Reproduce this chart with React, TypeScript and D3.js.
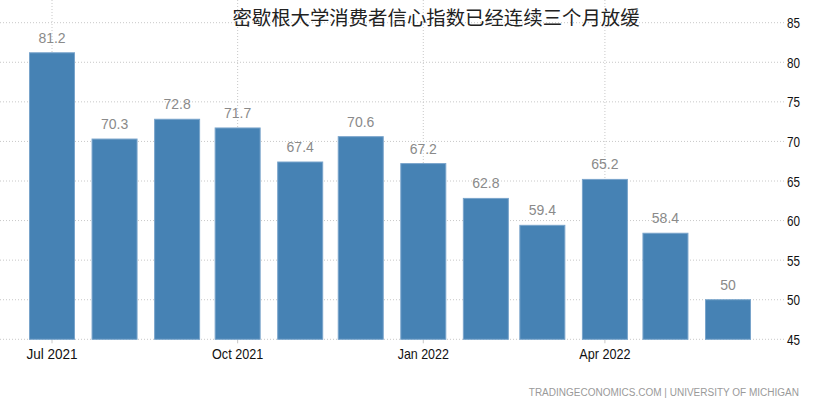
import React from "react";
import * as d3 from "d3";

const months = ["2021-07", "2021-08", "2021-09", "2021-10", "2021-11", "2021-12", "2022-01", "2022-02", "2022-03", "2022-04", "2022-05", "2022-06"];
const values = [81.2, 70.3, 72.8, 71.7, 67.4, 70.6, 67.2, 62.8, 59.4, 65.2, 58.4, 50];
const yTicks = [45, 50, 55, 60, 65, 70, 75, 80, 85];
const xTickMonths = ["2021-07", "2021-10", "2022-01", "2022-04"];
const title = "密歇根大学消费者信心指数已经连续三个月放缓";
const source = "TRADINGECONOMICS.COM | UNIVERSITY OF MICHIGAN";

const W = 830;
const H = 406;
const parse = d3.timeParse("%Y-%m");
const fmtTick = d3.timeFormat("%b %Y");

export default function App() {
  const dates = months.map((m) => parse(m) as Date);
  const x = d3.scaleTime().domain([dates[0], dates[dates.length - 1]]).range([52, 728]);
  const y = d3.scaleLinear().domain([45, 85]).range([339.3, 22.7]);
  const barW = 45;
  const plotRight = 786;
  const font = "'Liberation Sans', Arial, sans-serif";

  return (
    <svg width={W} height={H} style={{ position: "absolute", left: 0, top: 0, background: "#fff" }}>
      <rect x={0} y={0} width={W} height={H} fill="#fff" />
      {/* horizontal grid */}
      {yTicks.map((t) => (
        <line key={"h" + t} x1={0} x2={plotRight} y1={y(t)} y2={y(t)} stroke="#c8c8c8" strokeWidth={1} strokeDasharray="1,2" />
      ))}
      {/* vertical grid */}
      {xTickMonths.map((m) => {
        const d = parse(m) as Date;
        return <line key={"v" + m} x1={x(d)} x2={x(d)} y1={0} y2={y(45)} stroke="#c8c8c8" strokeWidth={1} strokeDasharray="1,2" />;
      })}
      {/* x tick marks */}
      {xTickMonths.map((m) => {
        const d = parse(m) as Date;
        return <line key={"tm" + m} x1={x(d)} x2={x(d)} y1={y(45)} y2={y(45) + 4} stroke="#c8c8c8" strokeWidth={1} />;
      })}
      {/* bars */}
      {values.map((v, i) => (
        <rect
          key={"b" + i}
          x={x(dates[i]) - barW / 2}
          y={y(v)}
          width={barW}
          height={y(45) - y(v)}
          fill="#4682b4"
          stroke="#79a4cb"
          strokeWidth={1}
        />
      ))}
      {/* value labels */}
      {values.map((v, i) => (
        <text key={"l" + i} x={x(dates[i])} y={y(v) - 10} textAnchor="middle" fontFamily={font} fontSize={14} fill="#8a8a8a">
          {String(v)}
        </text>
      ))}
      {/* y tick labels */}
      {yTicks.map((t) => (
        <text key={"yt" + t} x={787} y={y(t) + 5.5} fontFamily={font} fontSize={15} fill="#111" textLength={13} lengthAdjust="spacingAndGlyphs">
          {t}
        </text>
      ))}
      {/* x tick labels */}
      {xTickMonths.map((m) => {
        const d = parse(m) as Date;
        const label = fmtTick(d);
        return (
          <text key={"xt" + m} x={x(d)} y={359} textAnchor="middle" fontFamily={font} fontSize={15} fill="#111" textLength={label.length * 6.4} lengthAdjust="spacingAndGlyphs">
            {label}
          </text>
        );
      })}
      {/* title */}
      <text x={436} y={25} textAnchor="middle" fontFamily="'Noto Sans CJK SC', sans-serif" fontSize={19.4} fill="#222">
        {title}
      </text>
      {/* source */}
      <text x={799} y={396} textAnchor="end" fontFamily={font} fontSize={10} fill="#9a9a9a">
        {source}
      </text>
    </svg>
  );
}
